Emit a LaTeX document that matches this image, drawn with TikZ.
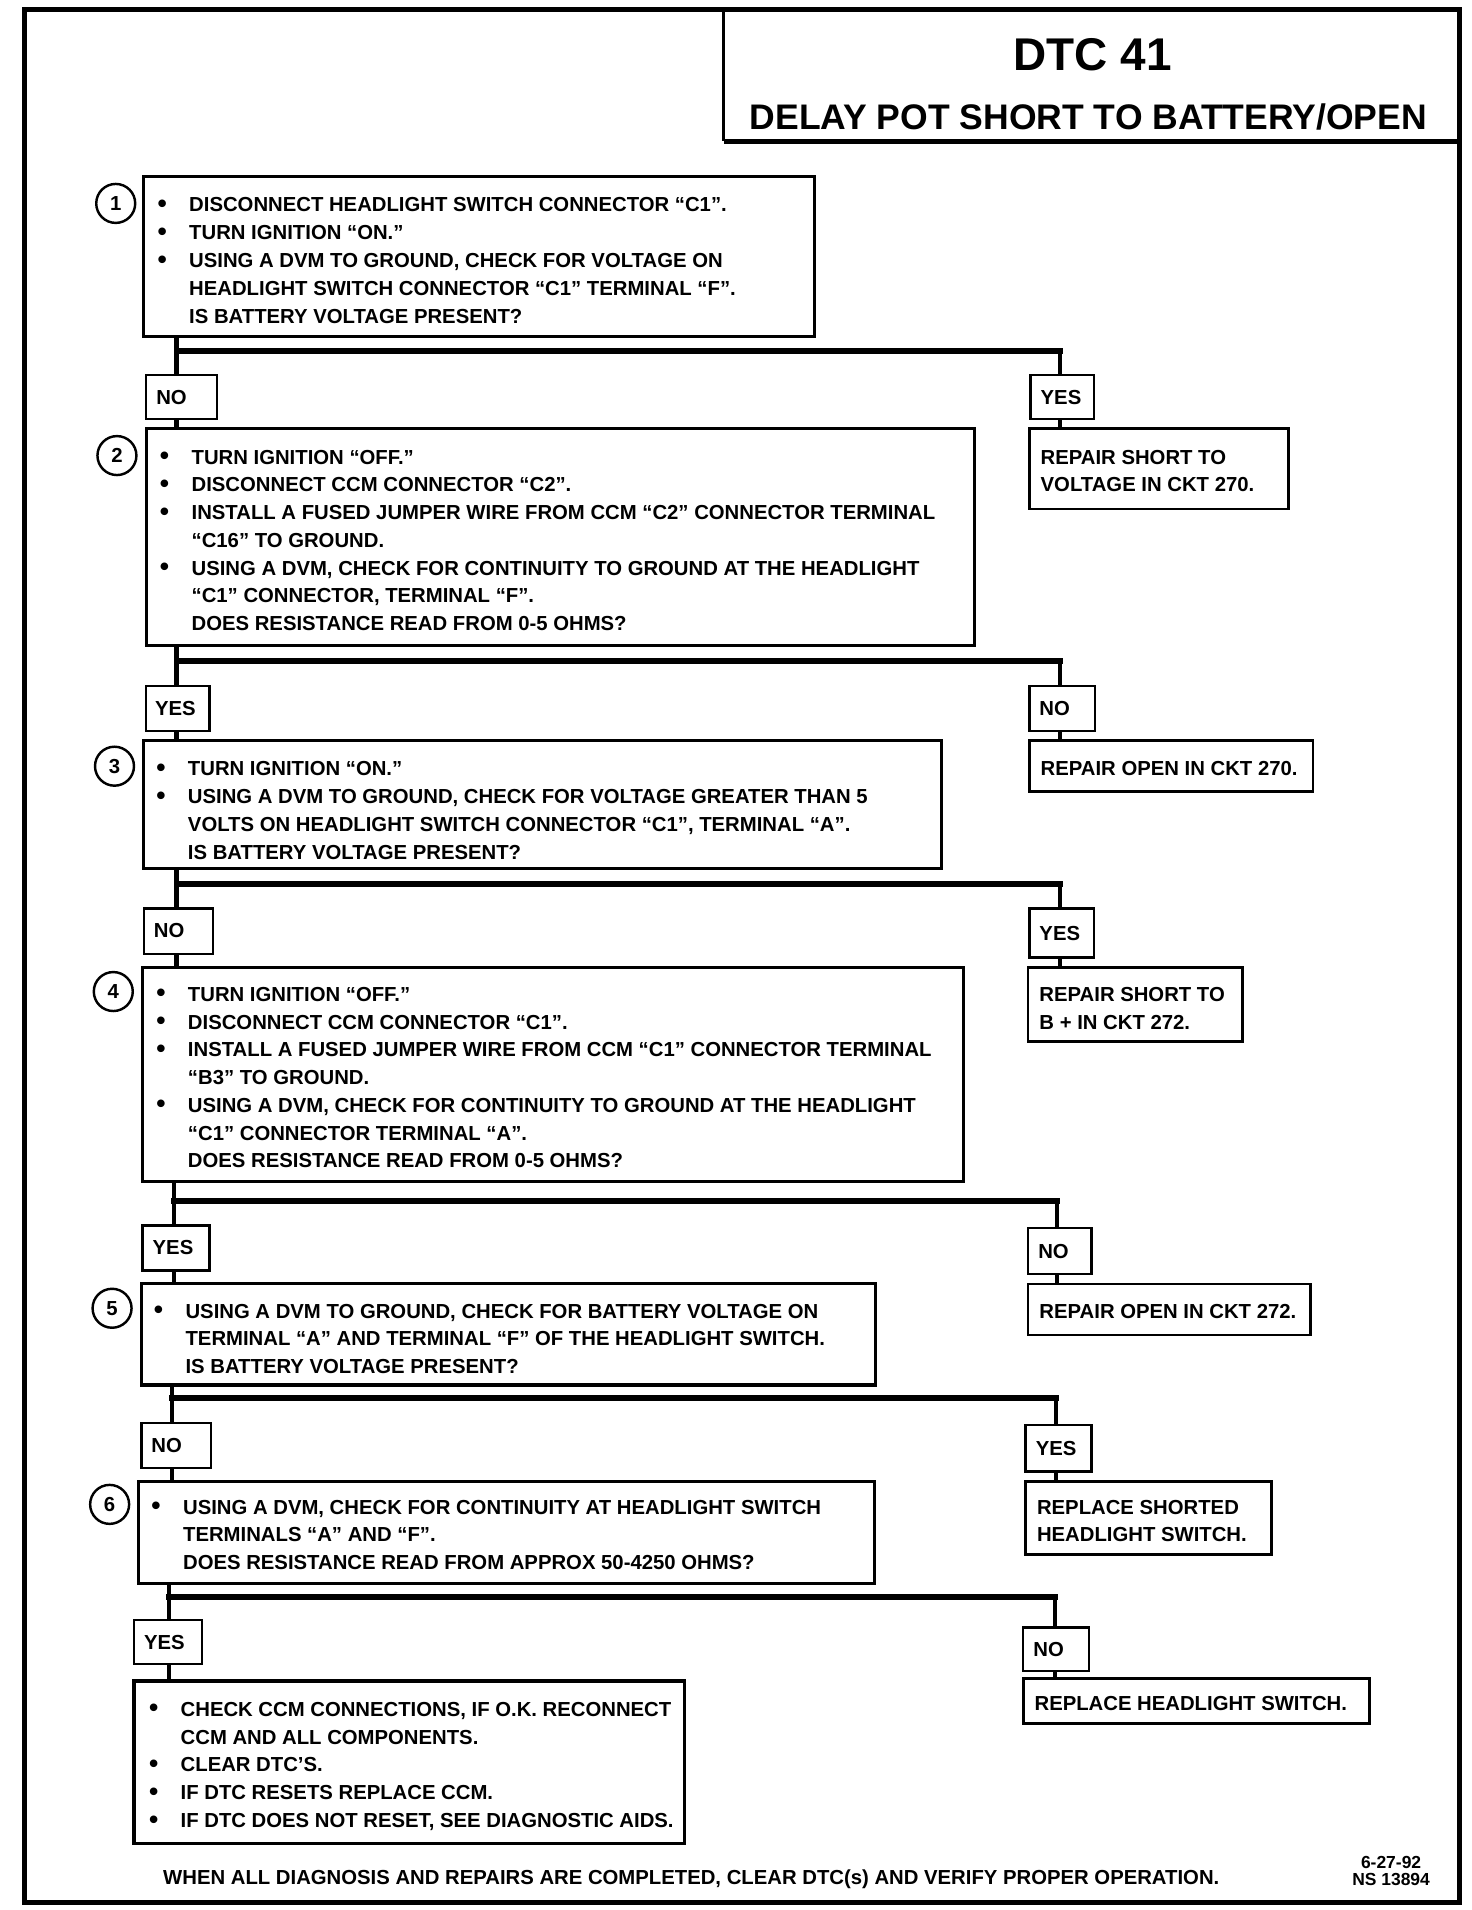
\documentclass[tikz,border=0pt]{standalone}
\usepackage{fontspec}
\setmainfont{Liberation Sans}
\newcommand\bl{\makebox[15.6pt][l]{\raisebox{-0.3pt}{\fontsize{13pt}{13pt}\selectfont\textbullet}}}
\newcommand\nb{\hspace*{15.6pt}}
\newcommand\mkbox[6]{\node[#1, minimum width={(#5-#3)*0.6pt}, minimum height={(#6-#4)*0.6pt}] (#2) at ({(#3+#5)/2},{(#4+#6)/2}) {};}
\newcommand\mktext[4]{\node[txt] (#1) at (#2,#3) {\begin{tabular}[t]{@{}l@{}}#4\end{tabular}};}
\tikzset{
  stepbox/.style={draw, line width=1.5pt, inner sep=0pt},
  ansbox/.style={draw, line width=1.2pt, inner sep=0pt},
  repbox/.style={draw, line width=1.3pt, inner sep=0pt},
  num/.style={draw, circle, line width=1.2pt, minimum size=19.2pt, inner sep=0pt, font=\bfseries\fontsize{10pt}{12pt}\selectfont},
  txt/.style={inner sep=0pt, anchor=base west, font=\bfseries\fontsize{10pt}{13.68pt}\selectfont},
  vline/.style={line width=2.1pt},
  hline/.style={line width=3pt, line cap=rect},
}
\begin{document}
\begin{tikzpicture}[x=0.6pt, y=-0.6pt]
\useasboundingbox (0,0) rectangle (1208,1568);
% frame and title
\draw[line width=2.4pt] (20,8) rectangle (1198,1562);
\draw[line width=1.3pt] (594,8) -- (594,116);
\draw[line width=2.6pt] (594,116) -- (1198,116);
\node[inner sep=0pt, font=\bfseries\fontsize{22.6pt}{26pt}\selectfont] (dtc) at (897,45) {DTC 41};
\node[inner sep=0pt, anchor=base, font=\bfseries\fontsize{17.5pt}{20pt}\selectfont] (ttl) at (893.5,106) {DELAY POT SHORT TO BATTERY/OPEN};

% step boxes
\mkbox{stepbox}{s1}{118}{145}{669}{276}
\mkbox{stepbox}{s2}{120}{352}{800}{530}
\mkbox{stepbox}{s3}{118}{608}{773}{713}
\mkbox{stepbox}{s4}{117}{794}{791}{970}
\mkbox{stepbox}{s5}{116}{1054}{719}{1137}
\mkbox{stepbox}{s6}{114}{1216}{718}{1300}
\mkbox{stepbox}{s7}{110}{1380}{562}{1513}

% numbers
\node[num] (c1) at (95,167) {1};
\node[num] (c2) at (96,374) {2};
\node[num] (c3) at (94,629) {3};
\node[num] (c4) at (93,814) {4};
\node[num] (c5) at (92,1074) {5};
\node[num] (c6) at (90,1235) {6};

% step texts
\mktext{t1}{129}{174}{\bl DISCONNECT HEADLIGHT SWITCH CONNECTOR “C1”.\\
\bl TURN IGNITION “ON.”\\
\bl USING A DVM TO GROUND, CHECK FOR  VOLTAGE ON\\
\nb HEADLIGHT SWITCH CONNECTOR “C1” TERMINAL “F”.\\
\nb IS BATTERY VOLTAGE PRESENT?}
\mktext{t2}{131}{381}{\bl TURN IGNITION “OFF.”\\
\bl DISCONNECT CCM CONNECTOR “C2”.\\
\bl INSTALL A FUSED JUMPER WIRE FROM CCM “C2” CONNECTOR TERMINAL\\
\nb “C16” TO GROUND.\\
\bl USING A DVM, CHECK FOR CONTINUITY TO GROUND AT THE HEADLIGHT\\
\nb “C1” CONNECTOR, TERMINAL “F”.\\
\nb DOES RESISTANCE READ FROM 0-5 OHMS?}
\mktext{t3}{128}{637}{\bl TURN IGNITION “ON.”\\
\bl USING A DVM TO GROUND, CHECK FOR VOLTAGE GREATER THAN 5\\
\nb VOLTS ON HEADLIGHT SWITCH CONNECTOR “C1”, TERMINAL “A”.\\
\nb IS BATTERY VOLTAGE PRESENT?}
\mktext{t4}{128}{822}{\bl TURN IGNITION “OFF.”\\
\bl DISCONNECT CCM CONNECTOR “C1”.\\
\bl INSTALL A FUSED JUMPER WIRE FROM CCM “C1” CONNECTOR TERMINAL\\
\nb “B3” TO GROUND.\\
\bl USING A DVM, CHECK FOR CONTINUITY TO GROUND AT THE HEADLIGHT\\
\nb “C1” CONNECTOR TERMINAL “A”.\\
\nb DOES RESISTANCE READ FROM 0-5 OHMS?}
\mktext{t5}{126}{1082}{\bl USING A DVM TO GROUND, CHECK FOR BATTERY VOLTAGE ON\\
\nb TERMINAL “A” AND TERMINAL “F” OF THE HEADLIGHT SWITCH.\\
\nb IS BATTERY VOLTAGE PRESENT?}
\mktext{t6}{124}{1243}{\bl USING A DVM, CHECK FOR CONTINUITY AT HEADLIGHT SWITCH\\
\nb TERMINALS “A” AND “F”.\\
\nb DOES RESISTANCE READ FROM APPROX 50-4250 OHMS?}
\mktext{t7}{122}{1409}{\bl CHECK CCM CONNECTIONS, IF O.K. RECONNECT\\
\nb CCM AND ALL COMPONENTS.\\
\bl CLEAR DTC’S.\\
\bl IF DTC RESETS REPLACE CCM.\\
\bl IF DTC DOES NOT RESET, SEE DIAGNOSTIC AIDS.}

% answer boxes
\mkbox{ansbox}{a1}{120}{308}{178}{344}
\mkbox{ansbox}{b1}{846}{308}{898}{344}
\mkbox{ansbox}{a2}{120}{563}{172}{600}
\mkbox{ansbox}{b2}{845}{563}{899}{600}
\mkbox{ansbox}{a3}{118}{746}{175}{783}
\mkbox{ansbox}{b3}{845}{746}{898}{786}
\mkbox{ansbox}{a4}{117}{1006}{172}{1043}
\mkbox{ansbox}{b4}{844}{1008}{896}{1046}
\mkbox{ansbox}{a5}{116}{1168}{173}{1205}
\mkbox{ansbox}{b5}{842}{1170}{896}{1208}
\mkbox{ansbox}{a6}{110}{1330}{166}{1366}
\mkbox{ansbox}{b6}{840}{1336}{894}{1372}
\mktext{la1}{128}{332}{NO}
\mktext{lb1}{854}{332}{YES}
\mktext{la2}{127}{587}{YES}
\mktext{lb2}{853}{587}{NO}
\mktext{la3}{126}{770}{NO}
\mktext{lb3}{853}{772}{YES}
\mktext{la4}{125}{1030}{YES}
\mktext{lb4}{852}{1033}{NO}
\mktext{la5}{124}{1192}{NO}
\mktext{lb5}{850}{1195}{YES}
\mktext{la6}{118}{1354}{YES}
\mktext{lb6}{848}{1360}{NO}

% repair boxes
\mkbox{repbox}{r1}{845}{352}{1058}{418}
\mkbox{repbox}{r2}{845}{608}{1078}{650}
\mkbox{repbox}{r3}{844}{794}{1020}{855}
\mkbox{repbox}{r4}{844}{1054}{1076}{1096}
\mkbox{repbox}{r5}{842}{1216}{1044}{1276}
\mkbox{repbox}{r6}{840}{1378}{1124}{1415}
\mktext{tr1}{854}{381}{REPAIR SHORT TO\\VOLTAGE  IN CKT 270.}
\mktext{tr2}{854}{637}{REPAIR OPEN IN CKT 270.}
\mktext{tr3}{853}{822}{REPAIR SHORT TO\\B + IN CKT 272.}
\mktext{tr4}{853}{1082}{REPAIR OPEN IN CKT 272.}
\mktext{tr5}{851}{1243}{REPLACE SHORTED\\HEADLIGHT SWITCH.}
\mktext{tr6}{849}{1404}{REPLACE HEADLIGHT SWITCH.}

% junctions
\coordinate (j1) at (145,288);  \coordinate (k1) at (870,288);
\coordinate (j2) at (145,543);  \coordinate (k2) at (870,543);
\coordinate (j3) at (145,726);  \coordinate (k3) at (870,726);
\coordinate (j4) at (143,986);  \coordinate (k4) at (868,986);
\coordinate (j5) at (141,1148); \coordinate (k5) at (867,1148);
\coordinate (j6) at (139,1311); \coordinate (k6) at (866,1311);

\foreach \i/\n in {1/2,2/3,3/4,4/5,5/6,6/7}{
  \draw[vline] (s\i.south -| j\i) -- (a\i.north -| j\i);
  \draw[hline] (j\i) -- (k\i);
  \draw[vline] (k\i) -- (b\i.north -| k\i);
  \draw[vline] (a\i.south -| j\i) -- (s\n.north -| j\i);
  \draw[vline] (b\i.south -| k\i) -- (r\i.north -| k\i);
}

% footer
\node[inner sep=0pt, anchor=base, font=\bfseries\fontsize{10pt}{12pt}\selectfont] (foot) at (567.5,1547) {WHEN ALL DIAGNOSIS AND REPAIRS ARE COMPLETED, CLEAR DTC(s) AND VERIFY PROPER OPERATION.};
\node[inner sep=0pt, anchor=base, font=\bfseries\fontsize{8.6pt}{10pt}\selectfont] (date) at (1142,1534) {6-27-92};
\node[inner sep=0pt, anchor=base, font=\bfseries\fontsize{8.6pt}{10pt}\selectfont] (nsid) at (1142,1548) {NS 13894};
\end{tikzpicture}
\end{document}
